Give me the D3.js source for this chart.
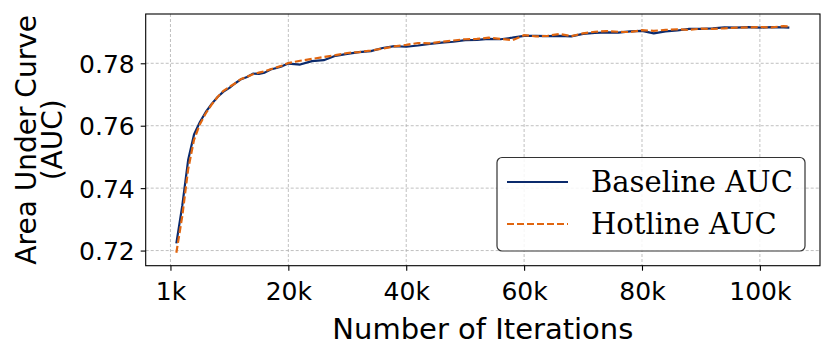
<!DOCTYPE html>
<html><head><meta charset="utf-8">
<script src="https://cdn.jsdelivr.net/npm/d3@7"></script>
<style>html,body{margin:0;padding:0;background:#fff;}svg{display:block;}</style>
</head><body>
<svg id="chart" width="831" height="356"></svg>
<script>
const iterations = [1000,2000,3000,4000,5000,6000,7000,8000,9000,10000,11000,12000,13000,14000,15000,16000,17000,18000,19000,20000,
  22000,24000,26000,28000,30000,32000,34000,36000,38000,40000,42000,44000,46000,48000,50000,52000,54000,56000,58000,60000,
  62000,64000,66000,68000,70000,72000,74000,76000,78000,80000,82000,84000,86000,88000,90000,92000,94000,96000,98000,100000,
  102000,104000,105000];
const baselineAUC = [0.7223,0.7343,0.7490,0.7572,0.7612,0.7644,0.7670,0.7692,0.7709,0.7721,0.7736,0.7749,0.7756,0.7767,0.7766,0.7770,0.7780,0.7785,0.7791,0.7799,
  0.7796,0.7807,0.7810,0.7824,0.7830,0.7836,0.7839,0.7849,0.7855,0.7853,0.7857,0.7862,0.7866,0.7869,0.7874,0.7875,0.7878,0.7877,0.7882,0.7888,
  0.7888,0.7887,0.7888,0.7886,0.7894,0.7897,0.7899,0.7898,0.7902,0.7904,0.7896,0.7902,0.7905,0.7910,0.7910,0.7912,0.7915,0.7914,0.7916,0.7914,
  0.7916,0.7915,0.7914];
const hotlineAUC = [0.7193,0.7310,0.7460,0.7555,0.7605,0.7640,0.7668,0.7692,0.7712,0.7724,0.7736,0.7750,0.7757,0.7765,0.7770,0.7774,0.7781,0.7787,0.7793,0.7801,
  0.7808,0.7814,0.7820,0.7826,0.7833,0.7836,0.7841,0.7847,0.7854,0.7859,0.7865,0.7864,0.7869,0.7873,0.7877,0.7878,0.7882,0.7878,0.7874,0.7890,
  0.7886,0.7888,0.7894,0.7887,0.7896,0.7901,0.7903,0.7901,0.7900,0.7906,0.7904,0.7907,0.7909,0.7907,0.7911,0.7910,0.7912,0.7914,0.7915,0.7916,
  0.7915,0.7919,0.7918];
const xTicks = [0,20000,40000,60000,80000,100000];
const xTickLabels = ["1k","20k","40k","60k","80k","100k"];
const yTicks = [0.72,0.74,0.76,0.78];
const seriesNames = ["Baseline AUC","Hotline AUC"];

const svg = d3.select("#chart");
const L = 145.7, R = 820, T = 14, B = 265.7;
const x = d3.scaleLinear().domain([-4200,110200]).range([L,R]);
const y = d3.scaleLinear().domain([0.71515,0.79579]).range([B,T]);

// grid
const grid = svg.append("g");
grid.selectAll("line.gx").data(xTicks).enter().append("line")
  .attr("x1",d=>x(d)).attr("x2",d=>x(d)).attr("y1",T).attr("y2",B)
  .attr("stroke","#b0b0b0").attr("stroke-width",0.8).attr("stroke-dasharray","3,2");
grid.selectAll("line.gy").data(yTicks).enter().append("line")
  .attr("y1",d=>y(d)).attr("y2",d=>y(d)).attr("x1",L).attr("x2",R)
  .attr("stroke","#b0b0b0").attr("stroke-width",0.8).attr("stroke-dasharray","3,2");

// axes
const xAxis = d3.axisBottom(x).tickValues(xTicks).tickFormat((d,i)=>xTickLabels[i]).tickSize(5).tickPadding(6);
const yAxis = d3.axisLeft(y).tickValues(yTicks).tickFormat(d3.format(".2f")).tickSize(5).tickPadding(6);
const gx = svg.append("g").attr("transform",`translate(0,${B})`).call(xAxis);
const gy = svg.append("g").attr("transform",`translate(${L},0)`).call(yAxis);
[gx,gy].forEach(g=>{
  g.select(".domain").remove();
  g.selectAll(".tick line").attr("stroke","#000").attr("stroke-width",1.1);
  g.selectAll(".tick text").attr("font-family","DejaVu Sans").attr("font-size",25).attr("fill","#000");
});
gx.selectAll(".tick text").attr("dy","0.95em");
gy.selectAll(".tick text").attr("dy","0.36em");

// lines
const pts = (vals)=>iterations.map((it,i)=>[it,vals[i]]);
const line = d3.line().x(d=>x(d[0])).y(d=>y(d[1]));
svg.append("path").attr("d",line(pts(baselineAUC))).attr("fill","none")
  .attr("stroke","#0b2a6c").attr("stroke-width",2.2).attr("stroke-linejoin","round");
svg.append("path").attr("d",line(pts(hotlineAUC))).attr("fill","none")
  .attr("stroke","#e0650f").attr("stroke-width",2.2).attr("stroke-dasharray","7,3");

// frame
svg.append("rect").attr("x",L).attr("y",T).attr("width",R-L).attr("height",B-T)
  .attr("fill","none").attr("stroke","#000").attr("stroke-width",1.1);

// axis labels
svg.append("text").attr("x",(L+R)/2).attr("y",339).attr("text-anchor","middle")
  .attr("font-family","DejaVu Sans").attr("font-size",29).text("Number of Iterations");
const yl = svg.append("text").attr("transform",`translate(37,${(T+B)/2}) rotate(-90)`)
  .attr("text-anchor","middle").attr("font-family","DejaVu Sans").attr("font-size",28);
yl.append("tspan").attr("x",0).attr("dy","-0.05em").text("Area Under Curve");
yl.append("tspan").attr("x",0).attr("dy","0.95em").text("(AUC)");

// legend
const lg = svg.append("g");
lg.append("rect").attr("x",497).attr("y",157.5).attr("width",308).attr("height",93.5)
  .attr("rx",5).attr("ry",5).attr("fill","#fff").attr("fill-opacity",0.85)
  .attr("stroke","#333").attr("stroke-width",1.2);
const colors = ["#0b2a6c","#e0650f"];
const dashes = [null,"7,3"];
const rowsY = [182,224];
seriesNames.forEach((n,i)=>{
  lg.append("line").attr("x1",507).attr("x2",568).attr("y1",rowsY[i]).attr("y2",rowsY[i])
    .attr("stroke",colors[i]).attr("stroke-width",2.2).attr("stroke-dasharray",dashes[i]);
  lg.append("text").attr("x",591).attr("y",rowsY[i]).attr("dy","0.36em")
    .attr("font-family","DejaVu Serif").attr("font-size",29).text(n);
});
</script>
</body></html>
